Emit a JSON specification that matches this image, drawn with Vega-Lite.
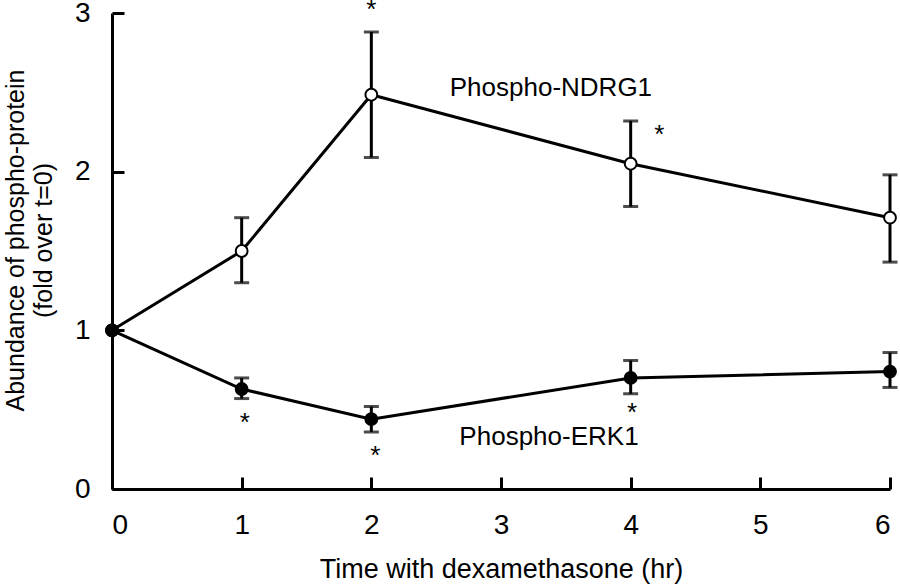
{
  "$schema": "https://vega.github.io/schema/vega-lite/v6.json",
  "width": 778,
  "height": 476,
  "autosize": {"type": "none"},
  "padding": {"left": 112, "top": 13, "right": 10, "bottom": 95},
  "background": "white",
  "config": {
    "view": {"stroke": null},
    "font": "Liberation Sans",
    "axis": {
      "grid": false,
      "domainColor": "black",
      "domainWidth": 3,
      "tickColor": "black",
      "tickWidth": 3,
      "tickSize": -12,
      "labelColor": "black",
      "labelFont": "Liberation Sans",
      "labelFontSize": 28,
      "titleColor": "black",
      "titleFont": "Liberation Sans",
      "titleFontWeight": "normal"
    }
  },
  "datasets": {
    "points": [
      {"series": "Phospho-NDRG1", "t": 0, "value": 1.0, "lo": 1.0, "hi": 1.0},
      {"series": "Phospho-NDRG1", "t": 1, "value": 1.5, "lo": 1.3, "hi": 1.71},
      {"series": "Phospho-NDRG1", "t": 2, "value": 2.485, "lo": 2.09, "hi": 2.88},
      {"series": "Phospho-NDRG1", "t": 4, "value": 2.05, "lo": 1.78, "hi": 2.32},
      {"series": "Phospho-NDRG1", "t": 6, "value": 1.71, "lo": 1.43, "hi": 1.98},
      {"series": "Phospho-ERK1", "t": 0, "value": 1.0, "lo": 1.0, "hi": 1.0},
      {"series": "Phospho-ERK1", "t": 1, "value": 0.63, "lo": 0.57, "hi": 0.7},
      {"series": "Phospho-ERK1", "t": 2, "value": 0.44, "lo": 0.36, "hi": 0.52},
      {"series": "Phospho-ERK1", "t": 4, "value": 0.7, "lo": 0.6, "hi": 0.81},
      {"series": "Phospho-ERK1", "t": 6, "value": 0.74, "lo": 0.64, "hi": 0.86}
    ],
    "notes": [
      {"t": 3.385, "value": 2.53, "label": "Phospho-NDRG1"},
      {"t": 3.37, "value": 0.327, "label": "Phospho-ERK1"},
      {"t": 2.0, "value": 3.02, "label": "*"},
      {"t": 4.22, "value": 2.23, "label": "*"},
      {"t": 1.025, "value": 0.415, "label": "*"},
      {"t": 2.03, "value": 0.205, "label": "*"},
      {"t": 4.01, "value": 0.48, "label": "*"}
    ]
  },
  "encoding": {
    "x": {
      "field": "t",
      "type": "quantitative",
      "scale": {"domain": [0, 6], "nice": false},
      "axis": {
        "title": "Time with dexamethasone (hr)",
        "values": [0, 1, 2, 3, 4, 5, 6],
        "labelPadding": 34,
        "titleFontSize": 27,
        "titlePadding": 17
      }
    },
    "y": {
      "field": "value",
      "type": "quantitative",
      "scale": {"domain": [0, 3], "nice": false},
      "axis": {
        "title": ["Abundance of phospho-protein", "(fold over t=0)"],
        "values": [0, 1, 2, 3],
        "labelPadding": 34,
        "titleFontSize": 25,
        "titlePadding": 18,
        "titleLineHeight": 28,
        "titleY": 227
      }
    }
  },
  "layer": [
    {
      "mark": {"type": "rule", "color": "black", "strokeWidth": 3, "strokeDash": [14, 12]},
      "encoding": {"y": {"datum": 1}, "x": null}
    },
    {
      "data": {"name": "points"},
      "mark": {"type": "line", "color": "black", "strokeWidth": 3},
      "encoding": {"detail": {"field": "series"}}
    },
    {
      "data": {"name": "points"},
      "transform": [{"filter": "datum.t > 0"}],
      "mark": {"type": "errorbar", "ticks": true, "size": 15, "thickness": 3, "color": "black"},
      "encoding": {
        "y": {"field": "lo", "type": "quantitative"},
        "y2": {"field": "hi"}
      }
    },
    {
      "data": {"name": "points"},
      "mark": {"type": "point", "filled": true, "size": 140, "stroke": "black", "strokeWidth": 2, "opacity": 1},
      "encoding": {
        "fill": {
          "field": "series",
          "type": "nominal",
          "scale": {"domain": ["Phospho-NDRG1", "Phospho-ERK1"], "range": ["white", "black"]},
          "legend": null
        }
      }
    },
    {
      "data": {"name": "notes"},
      "mark": {"type": "text", "fontSize": 26, "font": "Liberation Sans", "color": "black", "align": "center", "baseline": "middle"},
      "encoding": {"text": {"field": "label"}}
    }
  ]
}
